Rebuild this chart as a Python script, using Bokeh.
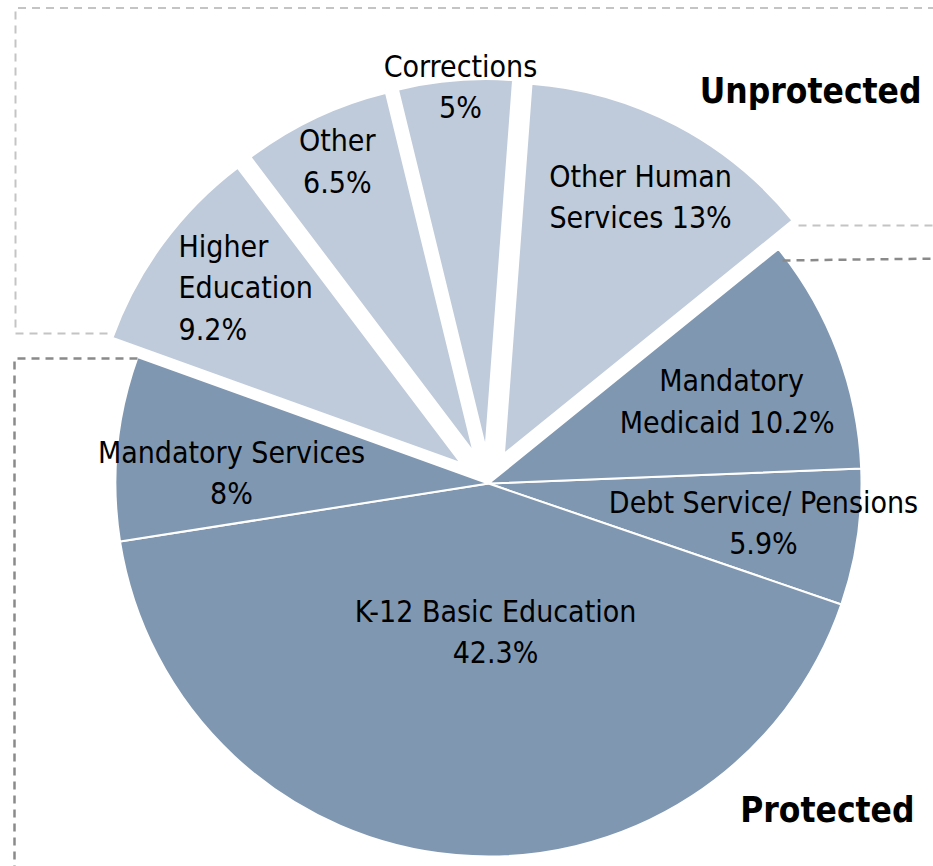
import math
from bokeh.plotting import figure
from bokeh.models import Range1d
from bokeh.core.properties import value
from bokeh.embed import file_html
from bokeh.resources import INLINE

# ---------------- data ----------------
categories = ["Debt Service/ Pensions", "K-12 Basic Education", "Mandatory Services",
              "Higher Education", "Other", "Corrections", "Other Human Services",
              "Mandatory Medicaid"]
shares = [5.9, 42.3, 8.0, 9.2, 6.5, 5.0, 13.0, 10.2]
protected = [True, True, True, False, False, False, False, True]
label_templates = [["Debt Service/ Pensions", "{v}"],
                   ["K-12 Basic Education", "{v}"],
                   ["Mandatory Services", "{v}"],
                   ["Higher", "Education", "{v}"],
                   ["Other", "{v}"],
                   ["Corrections", "{v}"],
                   ["Other Human", "Services {v}"],
                   ["Mandatory", "Medicaid  {v}"]]
group_titles = ["Unprotected", "Protected"]

# ---------------- layout / style ----------------
W, H = 933, 866
CX, CY = 488.0, 383.0          # pie centre (data units == pixels)
R = 373.0
EXPLODE = 32.0
START_DEG = 2.3                # boundary Medicaid / Debt service, slices run clockwise
DARK = "#7f97b1"
LIGHT = "#bfcbda"
FONT = "'DejaVu Sans Condensed', sans-serif"
FS_PX = 30
TITLE_PX = 35
LINE_H = 41.5
# label anchor (first baseline) in polar coords around the pie centre: (dist, angle_deg, align)
label_pos = [(276.6, -6.2, "center"), (139.2, -87.1, "center"), (257.8, 175.5, "center"),
             (383.6, 143.9, "left"), (364.7, 114.5, "center"), (407.0, 93.95, "center"),
             (332.7, 62.8, "center"), (259.8, 20.7, "center")]

p = figure(width=W, height=H, output_backend="svg", toolbar_location=None,
           x_range=Range1d(0, W), y_range=Range1d(0, H), min_border=0,
           tools="")
p.xaxis.visible = False
p.yaxis.visible = False
p.grid.visible = False
p.outline_line_color = None
p.background_fill_color = "white"
p.border_fill_color = "white"

total = sum(shares)
xs, ys, sa, ea, cols, lws = [], [], [], [], [], []
ang = START_DEG
for s, prot in zip(shares, protected):
    sweep = s / total * 360.0
    a_hi = ang
    a_lo = ang - sweep
    mid = math.radians((a_hi + a_lo) / 2)
    off = 0.0 if prot else EXPLODE
    xs.append(CX + off * math.cos(mid))
    ys.append(CY + off * math.sin(mid))
    sa.append(math.radians(a_lo))
    ea.append(math.radians(a_hi))
    cols.append(DARK if prot else LIGHT)
    lws.append(2.0 if prot else 3.0)
    ang = a_lo

p.wedge(x=xs, y=ys, radius=R, start_angle=sa, end_angle=ea,
        fill_color=cols, line_color="white", line_width=lws)

# dashed group outlines (screen pixel coordinates converted to data)
def sx(v):
    return v

def sy(v):
    return H - v

p.line([sx(107), sx(15), sx(15), sx(940)], [sy(333), sy(333), sy(7.5), sy(7.5)],
       line_color="#c4c4c4", line_width=2, line_dash="8 6")
p.line([sx(798), sx(940)], [sy(225), sy(225)],
       line_color="#c4c4c4", line_width=2, line_dash="8 6")
p.line([sx(137), sx(14), sx(14)], [sy(358), sy(358), sy(870)],
       line_color="#8a8a8a", line_width=2.5, line_dash="8 6")
p.line([sx(782), sx(940)], [sy(260), sy(258)],
       line_color="#8a8a8a", line_width=2.5, line_dash="8 6")

# slice labels (baseline correction for how the text glyph places "alphabetic")
FIX = 0.37 * FS_PX
for tmpl, v, (dist, adeg, align) in zip(label_templates, shares, label_pos):
    vtxt = f"{v:g}%"
    ax = CX + dist * math.cos(math.radians(adeg))
    ay = CY + dist * math.sin(math.radians(adeg)) + FIX
    lines = [t.format(v=vtxt) for t in tmpl]
    p.text(x=[ax] * len(lines), y=[ay - i * LINE_H for i in range(len(lines))], text=lines,
           text_align=align, text_baseline="alphabetic", text_font=value(FONT),
           text_font_size=f"{FS_PX}px", text_color="black")

# group titles
TFIX = 0.37 * TITLE_PX
p.text(x=[sx(921), sx(914)], y=[sy(103) + TFIX, sy(822) + TFIX], text=group_titles,
       text_align="right", text_baseline="alphabetic", text_font=value(FONT),
       text_font_size=f"{TITLE_PX}px", text_font_style="bold", text_color="black")

open("out.html", "w").write(file_html(p, INLINE))
